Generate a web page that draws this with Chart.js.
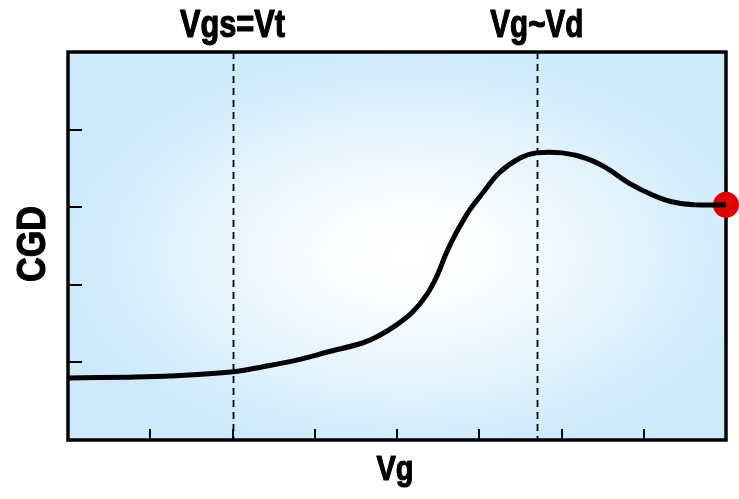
<!DOCTYPE html>
<html>
<head>
<meta charset="utf-8">
<script src="https://cdn.jsdelivr.net/npm/chart.js@4.4.0/dist/chart.umd.min.js"></script>
<style>
  html, body { margin: 0; padding: 0; background: #fff; }
  #wrap { width: 739px; height: 499px; position: relative; }
</style>
</head>
<body>
<div id="wrap"><canvas id="cgdChart"></canvas></div>
<script>
// curve (x = Vg, y = CGD, arbitrary units)
const vgValues = [0, 0.75, 1.24, 2.01, 2.37, 2.78, 3.18, 3.58, 3.79, 3.99, 4.19, 4.36, 4.48, 4.60, 4.72, 4.88, 5.04, 5.24, 5.49, 5.70, 6.01, 6.30, 6.54, 6.82, 7.10, 7.34, 7.63, 8.0];
const cgdValues = [0.80, 0.81, 0.825, 0.88, 0.945, 1.03, 1.14, 1.25, 1.35, 1.48, 1.65, 1.87, 2.10, 2.41, 2.67, 2.96, 3.18, 3.44, 3.63, 3.70, 3.70, 3.63, 3.51, 3.31, 3.16, 3.07, 3.03, 3.03];
const endPoint = [{ x: 8, y: 3.03 }];

const xTicks = [1, 2, 3, 4, 5, 6, 7];
const yTicks = [1, 2, 3, 4];
const markers = [
    { x: 2, label: 'Vgs=Vt', width: 105 },
    { x: 5.7, label: 'Vg~Vd', width: 93 }
];
const xTitle = 'Vg';
const yTitle = 'CGD';

const FONT = '"Liberation Sans", Arial, sans-serif';

const curve = vgValues.map((v, i) => ({ x: v, y: cgdValues[i] }));

// heavy bold text squeezed sideways to a given width, like a condensed face
function narrowText(ctx, text, cx, baseline, size, width) {
    ctx.save();
    ctx.font = 'bold ' + size + 'px ' + FONT;
    ctx.textAlign = 'center';
    ctx.textBaseline = 'alphabetic';
    const w = ctx.measureText(text).width;
    ctx.translate(cx, baseline);
    ctx.scale(width / w, 1);
    ctx.fillStyle = '#000';
    ctx.strokeStyle = '#000';
    ctx.lineWidth = 1.2;
    ctx.lineJoin = 'round';
    ctx.fillText(text, 0, 0);
    ctx.strokeText(text, 0, 0);
    ctx.restore();
}

// background gradient, frame, ticks, markers and titles
const decorPlugin = {
    id: 'decor',
    beforeDatasetsDraw(chart) {
        const { ctx, chartArea: a, scales } = chart;
        const x = scales.x, y = scales.y;

        // soft radial glow
        ctx.save();
        const cx = a.left + (a.right - a.left) * 0.52;
        const cy = a.top + (a.bottom - a.top) * 0.52;
        const rx = (a.right - a.left) * 0.5;
        const ry = (a.bottom - a.top) * 0.5;
        ctx.beginPath();
        ctx.rect(a.left, a.top, a.right - a.left, a.bottom - a.top);
        ctx.clip();
        ctx.translate(cx, cy);
        ctx.scale(rx / ry, 1);
        const g = ctx.createRadialGradient(0, 0, 0, 0, 0, ry * 1.05);
        g.addColorStop(0, '#ffffff');
        g.addColorStop(0.25, '#fbfdff');
        g.addColorStop(0.65, '#e2f3fd');
        g.addColorStop(1, '#cdeafc');
        ctx.fillStyle = g;
        ctx.fillRect(-rx * 2, -ry * 2, rx * 4, ry * 4);
        ctx.restore();

        // dashed markers
        ctx.save();
        ctx.strokeStyle = '#000';
        ctx.lineWidth = 1.8;
        ctx.setLineDash([7, 5]);
        markers.forEach(m => {
            const px = Math.round(x.getPixelForValue(m.x)) + 0.5;
            ctx.beginPath();
            ctx.moveTo(px, a.top);
            ctx.lineTo(px, a.bottom);
            ctx.stroke();
        });
        ctx.restore();

        // ticks inside the frame
        ctx.save();
        ctx.strokeStyle = '#000';
        ctx.lineWidth = 2;
        xTicks.forEach(t => {
            const px = Math.round(x.getPixelForValue(t));
            ctx.beginPath();
            ctx.moveTo(px, a.bottom);
            ctx.lineTo(px, a.bottom - 11);
            ctx.stroke();
        });
        yTicks.forEach(t => {
            const py = Math.round(y.getPixelForValue(t));
            ctx.beginPath();
            ctx.moveTo(a.left, py);
            ctx.lineTo(a.left + 14, py);
            ctx.stroke();
        });

        // frame
        ctx.lineWidth = 3.5;
        ctx.strokeRect(a.left, a.top, a.right - a.left, a.bottom - a.top);
        ctx.restore();

        // text
        markers.forEach(m => {
            narrowText(ctx, m.label, x.getPixelForValue(m.x), 37, 38, m.width);
        });
        narrowText(ctx, xTitle, 395, 480, 35, 37);
        ctx.save();
        ctx.translate(45, 244);
        ctx.rotate(-Math.PI / 2);
        narrowText(ctx, yTitle, 0, 0, 40, 76);
        ctx.restore();
    }
};

new Chart(document.getElementById('cgdChart'), {
    type: 'scatter',
    data: {
        datasets: [
            {
                data: curve,
                showLine: true,
                borderColor: '#000',
                borderWidth: 5,
                pointRadius: 0,
                tension: 0.35,
                clip: false
            },
            {
                data: endPoint,
                pointRadius: 13,
                pointBackgroundColor: '#e00000',
                pointBorderWidth: 0,
                clip: false
            }
        ]
    },
    options: {
        responsive: true,
        maintainAspectRatio: false,
        animation: false,
        layout: {
            padding: { left: 68, right: 12, top: 52, bottom: 59 }
        },
        scales: {
            x: { type: 'linear', min: 0, max: 8, display: false },
            y: { type: 'linear', min: 0, max: 5, display: false }
        },
        plugins: {
            legend: { display: false },
            tooltip: { enabled: false }
        }
    },
    plugins: [decorPlugin]
});
</script>
</body>
</html>
